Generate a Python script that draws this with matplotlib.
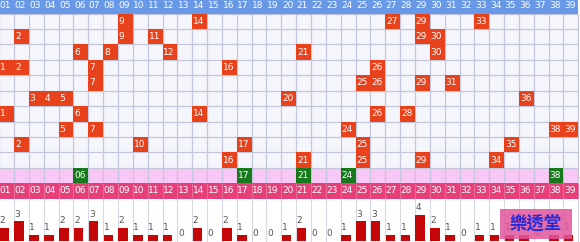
import matplotlib
matplotlib.use("Agg")
import matplotlib.pyplot as plt
from matplotlib.patches import Rectangle

# numbers 01-39
cols = list(range(1, 40))

# last ten draws (top to bottom)
draws = [
    [9, 14, 27, 29, 33],
    [2, 9, 11, 29, 30],
    [6, 8, 12, 21, 30],
    [1, 2, 7, 16, 26],
    [7, 25, 26, 29, 31],
    [3, 4, 5, 20, 36],
    [1, 6, 14, 26, 28],
    [5, 7, 24, 38, 39],
    [2, 10, 17, 25, 35],
    [16, 21, 25, 29, 34],
]

# highlighted row (green)
latest = [6, 17, 21, 24, 38]

# occurrence counts shown under the grid
counts = [2, 3, 1, 1, 2, 2, 3, 1, 2, 1, 1, 1, 0, 2, 0, 2, 1, 0, 0, 1,
          2, 0, 0, 1, 3, 3, 1, 1, 4, 2, 1, 0, 1, 1, 1, 1, 0, 1, 1]

W, H = 580, 242
grid_px = 198.7
fs = 6.5

red = "#e8421c"
green = "#18781c"
blue = "#6898e6"
magenta = "#e6407a"
pink = "#f8c8f6"
cellbg = "#f5f6fb"
linec = "#c4c6dc"

fig = plt.figure(figsize=(W / 100, H / 100), dpi=100)
fig.patch.set_facecolor("white")

xl = (0.557, 39.614)
nrow = len(draws)

ax = fig.add_axes([0, (H - grid_px) / H, 1, grid_px / H])
ax.set_xlim(*xl)
ax.set_ylim(nrow + 2.5, -0.38)
ax.axis("off")

# backgrounds
ax.add_patch(Rectangle((0.5, 0.5), 39, nrow, fc=cellbg, ec="none", zorder=1))
ax.add_patch(Rectangle((0.5, nrow + 0.5), 39, 1, fc=pink, ec="none", zorder=1))

# grid lines
ax.vlines([c + 0.5 for c in range(0, 40)], 0.5, nrow + 1.5, color=linec, lw=0.9, zorder=2)
ax.hlines([r + 0.5 for r in range(0, nrow + 1)], 0.5, 39.5, color=linec, lw=0.9, zorder=2)

# header rows
ax.add_patch(Rectangle((0.5, -1), 39, 1.5, fc=blue, ec="none", zorder=3))
ax.add_patch(Rectangle((0.5, nrow + 1.5), 39, 1, fc=magenta, ec="none", zorder=3))
ax.vlines([c + 0.5 for c in range(0, 40)], nrow + 1.5, nrow + 2.5, color="#ee6c98", lw=0.7, zorder=3)
for c in cols:
    ax.text(c - 0.46, 0, f"{c:02d}", ha="left", va="center", color="white", fontsize=fs, zorder=4)
    ax.text(c - 0.46, nrow + 2, f"{c:02d}", ha="left", va="center", color="white", fontsize=fs, zorder=4)

# drawn numbers
for r, draw in enumerate(draws, start=1):
    for n in draw:
        ax.add_patch(Rectangle((n - 0.5, r - 0.5), 1, 1, fc=red, ec="none", zorder=3))
        ax.text(n - 0.44, r, f"{n}", ha="left", va="center", color="white", fontsize=fs, zorder=4)

for n in latest:
    ax.add_patch(Rectangle((n - 0.5, nrow + 0.5), 1, 1, fc=green, ec="none", zorder=3))
    ax.text(n - 0.44, nrow + 1, f"{n:02d}", ha="left", va="center", color="white", fontsize=fs, zorder=4)

# count bars
bx = fig.add_axes([0, 0, 1, (H - grid_px) / H])
bx.set_xlim(*xl)
bx.set_ylim(-0.15, 6.5)
bx.axis("off")
bx.vlines([c + 0.5 for c in range(0, 40)], -0.2, 6.6, color="#d6d8e4", lw=0.8, zorder=1)
bx.bar([c - 0.47 for c in cols], counts, width=0.64, align="edge", color="#c40606", zorder=2)
for c, v in zip(cols, counts):
    bx.text(c - 0.46, v + 0.4, str(v), ha="left", va="bottom", color="#555555", fontsize=fs, zorder=3)

# watermark
fig.add_artist(Rectangle((500 / W, 1 - 239 / H), 72 / W, 30 / H, transform=fig.transFigure,
                         fc="#e2559c", ec="none", alpha=0.85, zorder=5))
fig.text(536 / W, 1 - 224 / H, "樂透堂", ha="center", va="center", fontsize=12.5,
         fontweight="bold", color="#2a2ad2", family=["Noto Sans CJK TC", "DejaVu Sans"], zorder=6)

fig.savefig("out.png", dpi=100, facecolor="white")
